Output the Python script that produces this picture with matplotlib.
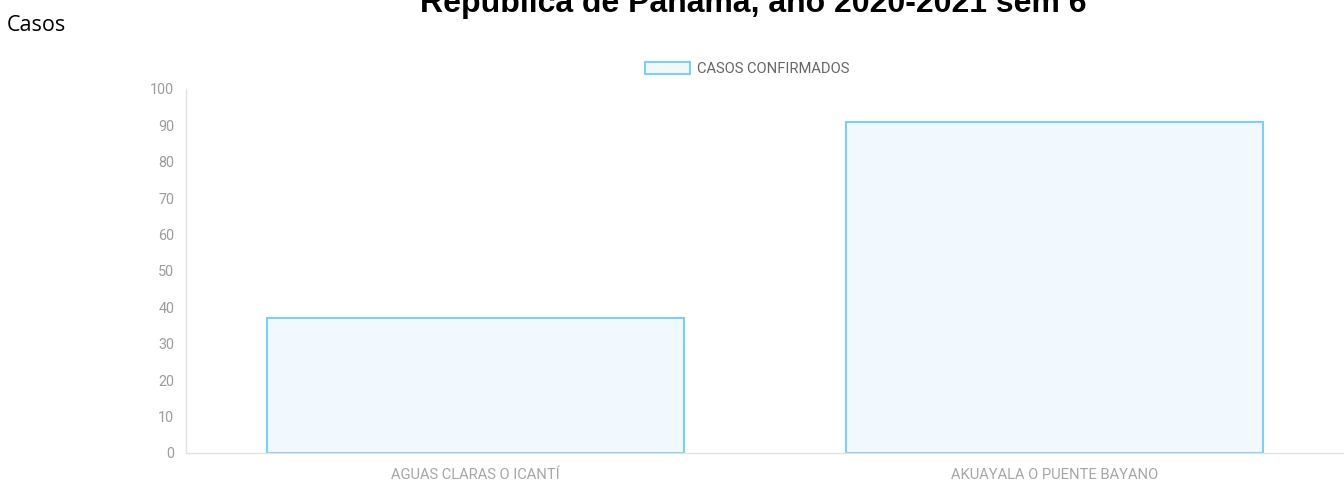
import matplotlib
matplotlib.use("Agg")
import matplotlib.pyplot as plt
from matplotlib.patches import Patch

categories = ["AGUAS CLARAS O ICANTÍ", "AKUAYALA O PUENTE BAYANO"]
casos = [37, 91]
series_label = "CASOS CONFIRMADOS"
yticks = [0, 10, 20, 30, 40, 50, 60, 70, 80, 90, 100]
title = "República de Panamá, año 2020-2021 sem 6"
ylabel = "Casos"

W, H = 1344, 484
fig = plt.figure(figsize=(W / 100, H / 100), dpi=100)
ax = fig.add_axes([186 / W, 31 / H, (W - 186) / W, 364 / H])

fill = "#f1f8fe"
edge = "#7dcff6"
x = list(range(len(categories)))
ax.bar(x, casos, width=0.72, color=fill, edgecolor=edge, linewidth=1.5, zorder=2)

ax.set_xlim(-0.5, len(categories) - 0.5)
ax.set_ylim(0, 100)
ax.set_yticks(yticks)
ax.set_yticklabels([str(v) for v in yticks])
ax.set_xticks(x)
ax.set_xticklabels(categories)

for s in ["top", "right"]:
    ax.spines[s].set_visible(False)
for s in ["left", "bottom"]:
    ax.spines[s].set_color("#e2e2e2")
    ax.spines[s].set_linewidth(1.0)

ax.tick_params(axis="y", length=0, pad=8.5, labelsize=10.4, labelcolor="#9c9c9c")
ax.tick_params(axis="x", length=0, pad=10.5, labelsize=10.6, labelcolor="#a6a6a6")
for lab in ax.get_yticklabels() + ax.get_xticklabels():
    lab.set_family("Roboto")

handle = Patch(facecolor=fill, edgecolor=edge, linewidth=1.5)
leg = fig.legend([handle], [series_label], loc="center",
                 bbox_to_anchor=(747 / W, 1 - 69 / H), frameon=False,
                 handlelength=3.05, handleheight=0.95, handletextpad=0.45,
                 prop={"family": "Roboto", "size": 10.6})
for t in leg.get_texts():
    t.set_color("#666666")

fig.text(753 / W, 1 - 12 / H, title, ha="center", va="baseline",
         fontsize=23, fontweight="bold", family="Liberation Sans", color="black")
fig.text(7 / W, 1 - 31 / H, ylabel, ha="left", va="baseline",
         fontsize=15.5, family="Open Sans", color="black")

fig.savefig("out.png", dpi=100)
